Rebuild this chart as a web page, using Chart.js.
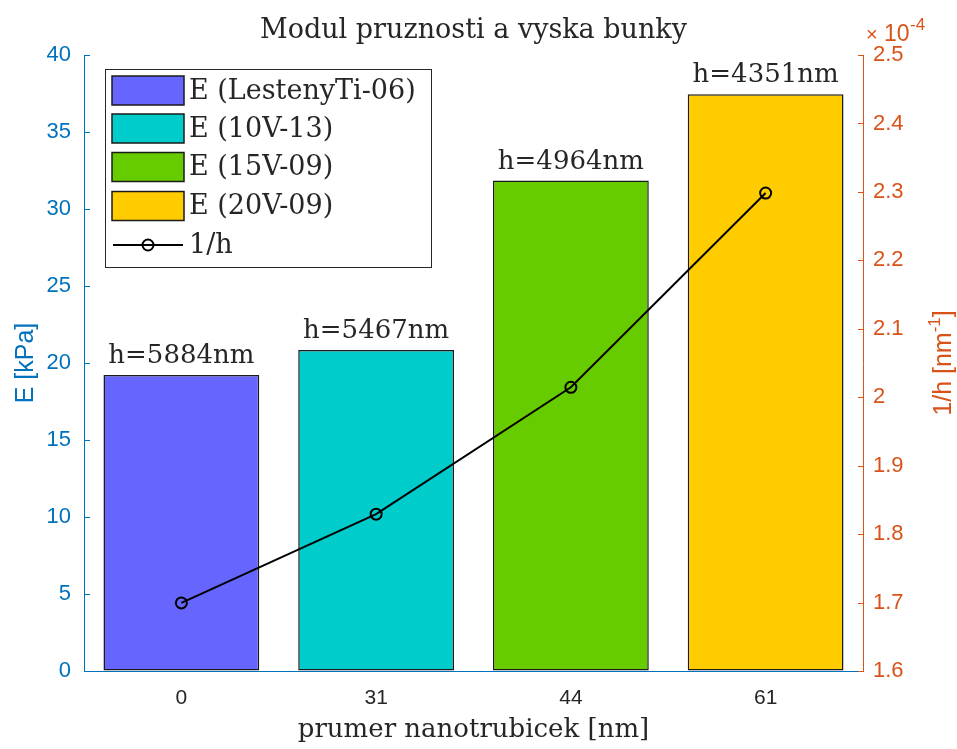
<!DOCTYPE html>
<html>
<head>
<meta charset="utf-8">
<script src="https://cdn.jsdelivr.net/npm/chart.js@4/dist/chart.umd.min.js"></script>
<style>
  html, body { margin: 0; padding: 0; background: #fff; }
  #wrap { width: 957px; height: 749px; }
</style>
</head>
<body>
<div id="wrap"><canvas id="c" width="957" height="749"></canvas></div>
<script>
// prumer nanotrubic (osa x)
const kategorie = ['0', '31', '44', '61'];
// modul pruznosti E [kPa]
const modulE = [19.22, 20.85, 31.85, 37.45];
// vyska bunky h [nm]
const vyskaH = [5884, 5467, 4964, 4351];
// 1/h v jednotkach 1e-4 nm^-1
const inverzniH = [1.6995, 1.8292, 2.0145, 2.2983];
const popiskyLegendy = ['E (LestenyTi-06)', 'E (10V-13)', 'E (15V-09)', 'E (20V-09)', '1/h'];
const barvySloupcu = ['#6666FF', '#00CCCC', '#66CC00', '#FFCC00'];

const MODRA = '#0072BD';
const ORANZOVA = '#D95319';
const SERIF = '"DejaVu Serif", "Liberation Serif", serif';
const SANS = '"Liberation Sans", Arial, sans-serif';
const TEXT = '#262626';

// popisky, znacky os a legenda
const dokresleni = {
  id: 'dokresleni',
  afterDraw(chart) {
    const ctx = chart.ctx;
    const a = chart.chartArea;
    const sy = chart.scales.y, sy1 = chart.scales.y1;
    ctx.save();

    // kratke znacky dovnitr grafu
    ctx.lineWidth = 1;
    ctx.strokeStyle = MODRA;
    sy.ticks.forEach(t => {
      const p = Math.round(sy.getPixelForValue(t.value)) + 0.5;
      ctx.beginPath(); ctx.moveTo(a.left, p); ctx.lineTo(a.left + 6, p); ctx.stroke();
    });
    ctx.strokeStyle = ORANZOVA;
    sy1.ticks.forEach(t => {
      const p = Math.round(sy1.getPixelForValue(t.value)) + 0.5;
      ctx.beginPath(); ctx.moveTo(a.right, p); ctx.lineTo(a.right - 5, p); ctx.stroke();
    });

    // hodnoty h nad sloupci
    const meta = chart.getDatasetMeta(0);
    ctx.fillStyle = TEXT;
    ctx.font = '26px ' + SERIF;
    ctx.textAlign = 'center';
    ctx.textBaseline = 'alphabetic';
    meta.data.forEach((bar, i) => {
      ctx.fillText('h=' + vyskaH[i] + 'nm', bar.x, bar.y - 12);
    });

    // titulek
    ctx.font = '27px ' + SERIF;
    ctx.fillText('Modul pruznosti a vyska bunky', (a.left + a.right) / 2, 38);

    // popisek osy x
    ctx.font = '26px ' + SERIF;
    ctx.fillText('prumer nanotrubicek [nm]', (a.left + a.right) / 2, 737);

    // popisky os y
    const stredY = (a.top + a.bottom) / 2;
    ctx.font = '25px ' + SANS;
    ctx.fillStyle = MODRA;
    ctx.save();
    ctx.translate(33, stredY);
    ctx.rotate(-Math.PI / 2);
    ctx.fillText('E [kPa]', 0, 0);
    ctx.restore();

    ctx.fillStyle = ORANZOVA;
    ctx.save();
    ctx.translate(951, stredY);
    ctx.rotate(-Math.PI / 2);
    ctx.textAlign = 'left';
    const t1 = '1/h [nm';
    const w1 = ctx.measureText(t1).width;
    ctx.font = '17px ' + SANS;
    const w2 = ctx.measureText('-1').width;
    ctx.font = '25px ' + SANS;
    const w3 = ctx.measureText(']').width;
    const x0 = -(w1 + w2 + w3) / 2;
    ctx.fillText(t1, x0, 0);
    ctx.font = '17px ' + SANS;
    ctx.fillText('-1', x0 + w1, -11);
    ctx.font = '25px ' + SANS;
    ctx.fillText(']', x0 + w1 + w2, 0);
    ctx.restore();

    // exponent prave osy
    ctx.textAlign = 'left';
    ctx.font = '20px ' + SANS;
    ctx.fillText('\u00d7', 866, 41);
    ctx.font = '23px ' + SANS;
    ctx.fillText('10', 884, 41);
    ctx.font = '17px ' + SANS;
    ctx.fillText('-4', 910, 30);

    // legenda
    const lx = 105.5, ly = 69.5, lw = 326, lh = 198;
    ctx.fillStyle = '#fff';
    ctx.fillRect(lx, ly, lw, lh);
    ctx.strokeStyle = TEXT;
    ctx.lineWidth = 1;
    ctx.strokeRect(lx, ly, lw, lh);
    const radky = [90.5, 128.5, 167, 206, 245];
    ctx.font = '27px ' + SERIF;
    ctx.textBaseline = 'middle';
    popiskyLegendy.forEach((txt, i) => {
      const cy = radky[i];
      if (i < barvySloupcu.length) {
        ctx.fillStyle = barvySloupcu[i];
        ctx.fillRect(112, cy - 14.5, 72, 29);
        ctx.strokeStyle = '#1a1a1a';
        ctx.lineWidth = 1.5;
        ctx.strokeRect(112, cy - 14.5, 72, 29);
      } else {
        ctx.strokeStyle = '#000';
        ctx.lineWidth = 2;
        ctx.beginPath(); ctx.moveTo(113, cy); ctx.lineTo(183, cy); ctx.stroke();
        ctx.beginPath(); ctx.arc(148, cy, 5.5, 0, Math.PI * 2); ctx.stroke();
      }
      ctx.fillStyle = TEXT;
      ctx.fillText(txt, 189, cy + 1);
    });

    ctx.restore();
  }
};

new Chart(document.getElementById('c'), {
  data: {
    labels: kategorie,
    datasets: [
      {
        type: 'bar',
        label: 'E',
        data: modulE,
        backgroundColor: barvySloupcu,
        borderColor: '#1a1a1a',
        borderWidth: 1.5,
        borderSkipped: false,
        barPercentage: 0.8,
        categoryPercentage: 1,
        yAxisID: 'y',
        order: 2
      },
      {
        type: 'line',
        label: '1/h',
        data: inverzniH,
        borderColor: '#000',
        borderWidth: 2,
        pointRadius: 5.5,
        pointBorderWidth: 2,
        pointBorderColor: '#000',
        pointBackgroundColor: 'rgba(0,0,0,0)',
        tension: 0,
        yAxisID: 'y1',
        order: 1
      }
    ]
  },
  options: {
    responsive: false,
    animation: false,
    devicePixelRatio: 1,
    layout: { padding: { top: 55, left: 0, right: 0, bottom: 0 } },
    plugins: { legend: { display: false }, tooltip: { enabled: false }, title: { display: false } },
    scales: {
      x: {
        offset: true,
        grid: { display: true, drawOnChartArea: false, drawTicks: false },
        border: { display: true, color: MODRA, width: 1 },
        ticks: { color: TEXT, font: { family: SANS, size: 21 }, padding: 15 },
        afterFit: s => { s.height = 78; }
      },
      y: {
        position: 'left',
        min: 0, max: 40,
        grid: { display: true, drawOnChartArea: false, drawTicks: false },
        border: { display: true, color: MODRA, width: 1 },
        ticks: { stepSize: 5, color: MODRA, font: { family: SANS, size: 22 }, padding: 13 },
        afterFit: s => { s.width = 84; }
      },
      y1: {
        position: 'right',
        min: 1.6, max: 2.5,
        grid: { display: true, drawOnChartArea: false, drawTicks: false },
        border: { display: true, color: ORANZOVA, width: 1 },
        ticks: {
          stepSize: 0.1, color: ORANZOVA, font: { family: SANS, size: 22 }, padding: 10,
          callback: v => Number(v.toFixed(1)).toString()
        },
        afterFit: s => { s.width = 94; }
      }
    }
  },
  plugins: [dokresleni]
});
</script>
</body>
</html>
